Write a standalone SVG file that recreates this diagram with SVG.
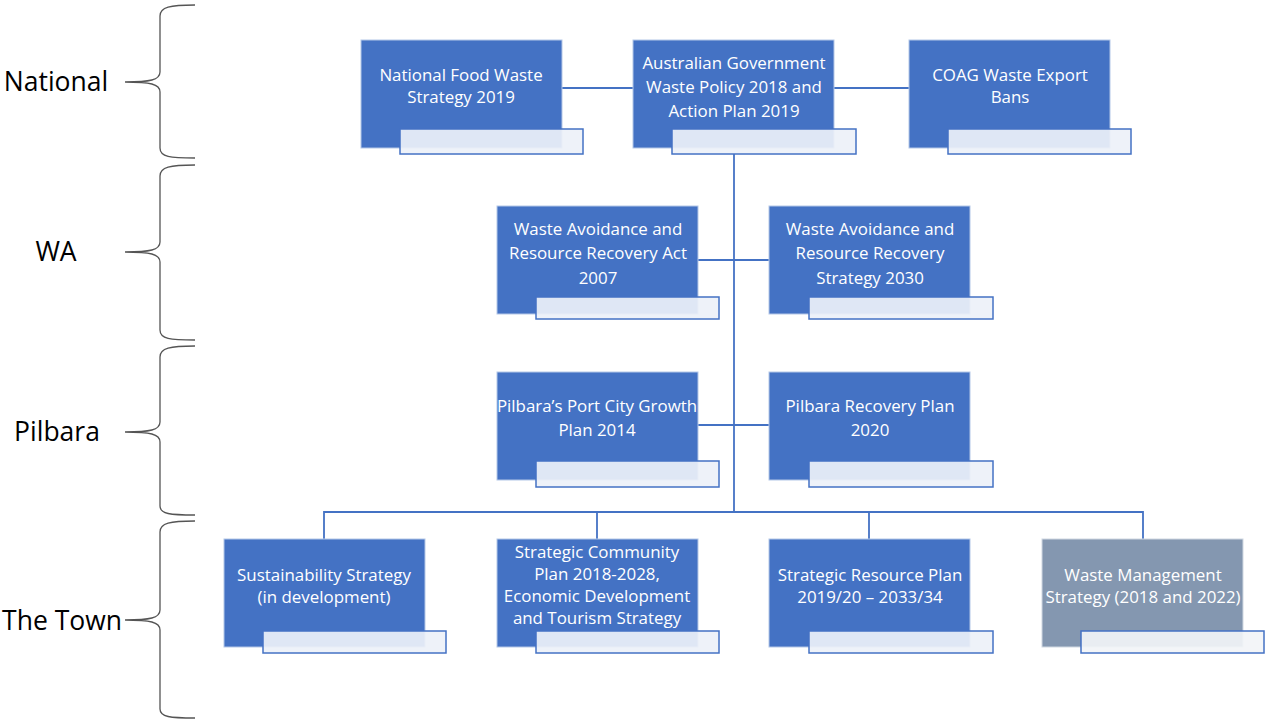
<svg xmlns="http://www.w3.org/2000/svg" width="1265" height="720" viewBox="0 0 1265 720">
<style>
.box{fill:#4472C4;stroke:#B4C7E7;stroke-width:1}
.grey{fill:#8497B0;stroke:#D0D8E2;stroke-width:1}
.tab{fill:#EDF1F9;fill-opacity:0.92;stroke:#4472C4;stroke-width:1.5}
.t{font-family:"Open Sans","Liberation Sans",Arial,sans-serif;font-size:16.9px;fill:#FFFFFF;text-anchor:middle}
.lvl{font-family:"Open Sans","Liberation Sans",sans-serif;font-size:26.5px;fill:#000000;text-anchor:middle}
.con{stroke:#4472C4;stroke-width:1.8;fill:none}
.brace{stroke:#555555;stroke-width:1.3;fill:none}
</style>
<rect width="1265" height="720" fill="#FFFFFF"/>

<g id="levels">
<text class="lvl" x="56" y="91">National</text>
<text class="lvl" x="56" y="261">WA</text>
<text class="lvl" x="57" y="441">Pilbara</text>
<text class="lvl" x="62" y="630">The Town</text>
<path class="brace" d="M195,5 C170,5 160,7 160,16 L160,72 C160,80 150,82 125,82 C150,82 160,84 160,92 L160,148 C160,157 170,158 195,158"/>
<path class="brace" d="M195,165 C170,165 160,167 160,176 L160,242 C160,250 150,252 125,252 C150,252 160,254 160,262 L160,330 C160,339 170,340 195,340"/>
<path class="brace" d="M195,346 C170,346 160,348 160,357 L160,422 C160,430 150,432 125,432 C150,432 160,434 160,442 L160,506 C160,514 170,515 195,515"/>
<path class="brace" d="M195,521 C170,521 160,523 160,532 L160,610 C160,618 150,620 125,620 C150,620 160,622 160,630 L160,709 C160,717 170,718 195,718"/>
</g>

<g id="connectors">
<line class="con" x1="562" y1="88" x2="633" y2="88"/>
<line class="con" x1="834" y1="88" x2="909" y2="88"/>
<line class="con" x1="734" y1="154" x2="734" y2="512"/>
<line class="con" x1="698" y1="260" x2="769" y2="260"/>
<line class="con" x1="698" y1="425" x2="769" y2="425"/>
<polyline class="con" points="324,539 324,512 1143,512 1143,539"/>
<line class="con" x1="597" y1="512" x2="597" y2="539"/>
<line class="con" x1="869" y1="512" x2="869" y2="539"/>
</g>

<g id="n-food">
<rect class="box" x="361" y="40" width="201" height="108"/>
<rect class="tab" x="400" y="129" width="183" height="25"/>
<text class="t" x="461" y="81">National Food Waste</text>
<text class="t" x="461" y="103">Strategy 2019</text>
</g>
<g id="n-policy">
<rect class="box" x="633" y="40" width="201" height="108"/>
<rect class="tab" x="672" y="129" width="184" height="25"/>
<text class="t" x="734" y="69">Australian Government</text>
<text class="t" x="734" y="93">Waste Policy 2018 and</text>
<text class="t" x="734" y="117">Action Plan 2019</text>
</g>
<g id="n-coag">
<rect class="box" x="909" y="40" width="201" height="108"/>
<rect class="tab" x="948" y="129" width="183" height="25"/>
<text class="t" x="1010" y="81">COAG Waste Export</text>
<text class="t" x="1010" y="103">Bans</text>
</g>

<g id="wa-act">
<rect class="box" x="497" y="206" width="201" height="108"/>
<rect class="tab" x="536" y="297" width="183" height="22"/>
<text class="t" x="598" y="235">Waste Avoidance and</text>
<text class="t" x="598" y="259">Resource Recovery Act</text>
<text class="t" x="598" y="284">2007</text>
</g>
<g id="wa-strategy">
<rect class="box" x="769" y="206" width="201" height="108"/>
<rect class="tab" x="809" y="297" width="184" height="22"/>
<text class="t" x="870" y="235">Waste Avoidance and</text>
<text class="t" x="870" y="259">Resource Recovery</text>
<text class="t" x="870" y="284">Strategy 2030</text>
</g>

<g id="p-port">
<rect class="box" x="497" y="372" width="201" height="108"/>
<rect class="tab" x="536" y="461" width="183" height="26"/>
<text class="t" x="597" y="412">Pilbara’s Port City Growth</text>
<text class="t" x="597" y="436">Plan 2014</text>
</g>
<g id="p-recovery">
<rect class="box" x="769" y="372" width="201" height="108"/>
<rect class="tab" x="809" y="461" width="184" height="26"/>
<text class="t" x="870" y="412">Pilbara Recovery Plan</text>
<text class="t" x="870" y="436">2020</text>
</g>

<g id="t-sustain">
<rect class="box" x="224" y="539" width="201" height="108"/>
<rect class="tab" x="263" y="631" width="183" height="22"/>
<text class="t" x="324" y="581">Sustainability Strategy</text>
<text class="t" x="324" y="603">(in development)</text>
</g>
<g id="t-community">
<rect class="box" x="497" y="539" width="201" height="108"/>
<rect class="tab" x="536" y="631" width="183" height="22"/>
<text class="t" x="597" y="558">Strategic Community</text>
<text class="t" x="597" y="580">Plan 2018-2028,</text>
<text class="t" x="597" y="602">Economic Development</text>
<text class="t" x="597" y="624">and Tourism Strategy</text>
</g>
<g id="t-resource">
<rect class="box" x="769" y="539" width="201" height="108"/>
<rect class="tab" x="809" y="631" width="184" height="22"/>
<text class="t" x="870" y="581">Strategic Resource Plan</text>
<text class="t" x="870" y="603">2019/20 – 2033/34</text>
</g>
<g id="t-waste">
<rect class="grey" x="1042" y="539" width="201" height="108"/>
<rect class="tab" x="1081" y="631" width="183" height="22" style="fill:#F2F4F7"/>
<text class="t" x="1143" y="581">Waste Management</text>
<text class="t" x="1143" y="603">Strategy (2018 and 2022)</text>
</g>
</svg>
